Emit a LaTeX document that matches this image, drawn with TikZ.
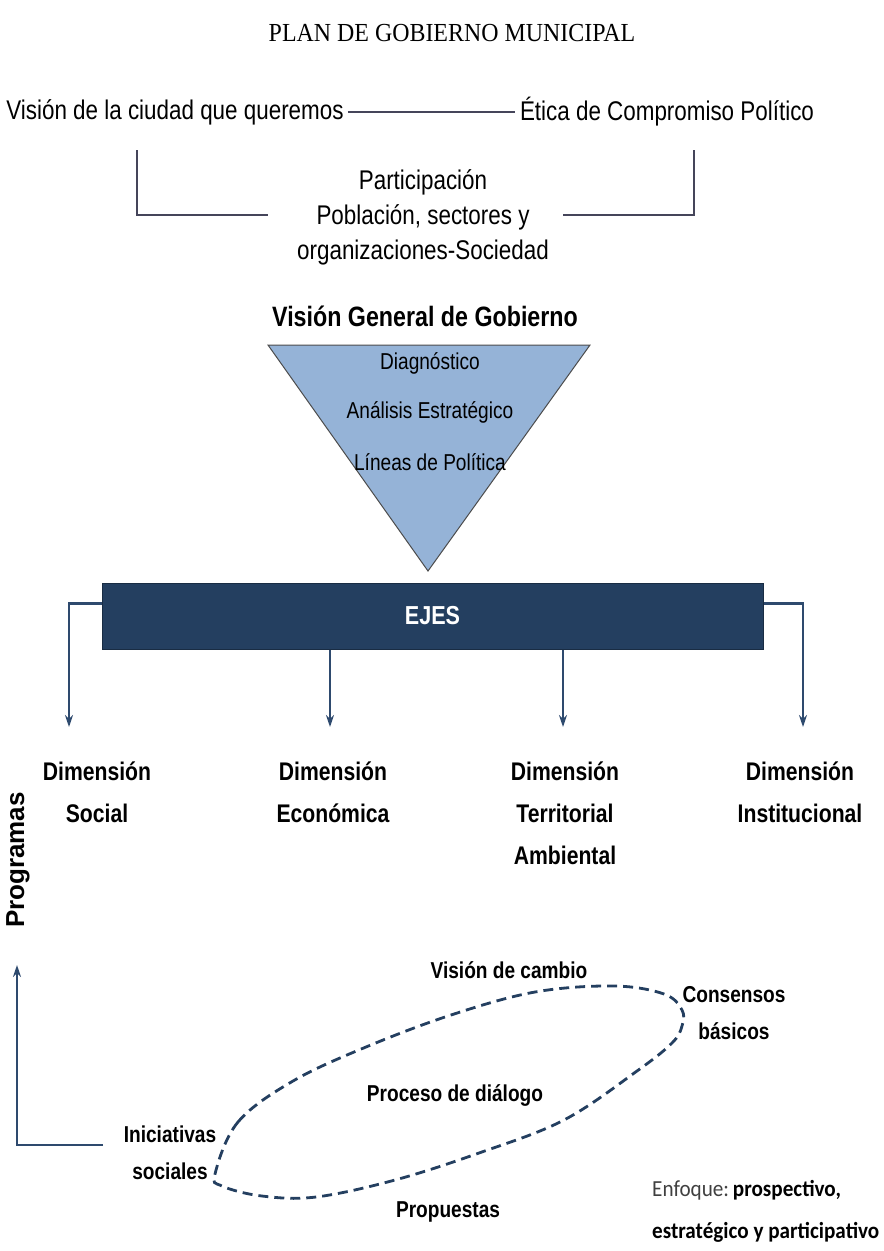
\documentclass[tikz,border=0pt]{standalone}
\usepackage{fontspec}
\usetikzlibrary{arrows.meta}
\setmainfont{Liberation Sans}
\newfontfamily\nar{Liberation Sans}[FakeStretch=0.83]
\newfontfamily\titlef{Liberation Serif}[FakeStretch=0.92]
\newfontfamily\progf{Liberation Sans}
\newfontfamily\calfont{Carlito}[FakeStretch=0.92]
\definecolor{navy}{HTML}{243F60}
\definecolor{arrcol}{HTML}{2E4A6E}
\definecolor{tribl}{HTML}{95B3D7}
\definecolor{topln}{HTML}{45455A}
\tikzset{
  lbl/.style={font=\nar\fontsize{27}{35}\selectfont, align=center, inner sep=0pt},
  tril/.style={font=\nar\fontsize{23}{28}\selectfont, align=center, inner sep=0pt, text=black},
  dim/.style={font=\nar\bfseries\fontsize{25.5}{42}\selectfont, align=center, inner sep=0pt},
  ell/.style={font=\nar\bfseries\fontsize{23}{37}\selectfont, align=center, inner sep=0pt},
  topline/.style={draw=topln, line width=1.8pt},
  arr/.style={draw=arrcol, line width=2.2pt, -{Stealth[length=12pt,width=8pt]}},
  ejesbox/.style={fill=navy, draw=navy!70!black, line width=1pt, text=white,
     font=\nar\bfseries\fontsize{26}{30}\selectfont, minimum width=661pt, minimum height=66pt},
  dashline/.style={draw=navy, line width=2.8pt, dash pattern=on 10pt off 6pt}
}
\begin{document}
\begin{tikzpicture}[x=1pt,y=-1pt]
\useasboundingbox (0,0) rectangle (884,1251);
% title
\node[font=\titlef\fontsize{26}{30}\selectfont, inner sep=0pt] (title) at (452,33) {PLAN DE GOBIERNO MUNICIPAL};
% top row
\node[lbl] (vis) at (175,112) {Visión de la ciudad que queremos};
\node[lbl] (eti) at (667,112) {Ética de Compromiso Político};
\draw[topline, shorten <=4pt, shorten >=5pt] (vis.east) -- (eti.west);
\node[lbl] (part) at (423,217) {Participación\\Población, sectores y\\organizaciones-Sociedad};
\coordinate (la) at (137,150);
\coordinate (lb) at (268,215);
\coordinate (ra) at (694,150);
\coordinate (rb) at (563,215);
\draw[topline] (la) |- (lb);
\draw[topline] (ra) |- (rb);
% vision general
\node[font=\nar\bfseries\fontsize{28}{32}\selectfont, inner sep=0pt] (vgg) at (425,316) {Visión General de Gobierno};
\coordinate (t1) at (268,345);
\coordinate (t2) at (590,345);
\coordinate (t3) at (428,571);
\draw[fill=tribl, draw=black!70, line width=1pt] (t1) -- (t2) -- (t3) -- cycle;
\node[tril] (diag) at (430,363) {Diagnóstico};
\node[tril] (anal) at (430,412) {Análisis Estratégico};
\node[tril] (line) at (430,462) {Líneas de Política};
% ejes
\node[ejesbox] (ejes) at (432.5,616) {EJES};
\coordinate (e1) at (69,727);
\coordinate (e2) at (330,727);
\coordinate (e3) at (563,727);
\coordinate (e4) at (803,727);
\draw[arr] ([yshift=-21pt]ejes.north west) -| (e1);
\draw[arr] ([yshift=-21pt]ejes.north east) -| (e4);
\draw[arr] (ejes.south -| e2) -- (e2);
\draw[arr] (ejes.south -| e3) -- (e3);
% dimensions
\node[dim] (dsoc) at (97,792) {Dimensión\\Social};
\node[dim] (deco) at (333,792) {Dimensión\\Económica};
\node[dim] (dter) at (565,813) {Dimensión\\Territorial\\Ambiental};
\node[dim] (dins) at (800,792) {Dimensión\\Institucional};
\node[font=\progf\bfseries\fontsize{26}{30}\selectfont, rotate=90, inner sep=0pt] (prog) at (18,860) {Programas};
% bottom arrow
\coordinate (p1) at (103,1145);
\coordinate (p2) at (17,965);
\draw[arr] (p1) -| (p2);
% dialogue loop
\draw[dashline] plot[smooth cycle, tension=0.6] coordinates {
 (215,1174) (238,1122) (293,1081) (366,1047) (451,1015) (535,992) (614,986)
 (664,994) (682,1010) (682,1026) (672,1043) (637,1071) (564,1120) (479,1153)
 (395,1180) (316,1197) (262,1196) (222,1186)};
\node[ell] (vcam) at (509,970) {Visión de cambio};
\node[ell] (cons) at (734,1013) {Consensos\\básicos};
\node[ell] (proc) at (455,1095) {Proceso de diálogo};
\node[ell] (inic) at (170,1153) {Iniciativas\\sociales};
\node[ell] (prop) at (448,1212) {Propuestas};
\node[font=\calfont\fontsize{23}{42}\selectfont, align=left, anchor=west, inner sep=0pt] (enf) at (652,1211)
  {\textcolor{black!75}{Enfoque:}\,\textbf{prospectivo,}\\\textbf{estratégico y participativo}};
\end{tikzpicture}
\end{document}
